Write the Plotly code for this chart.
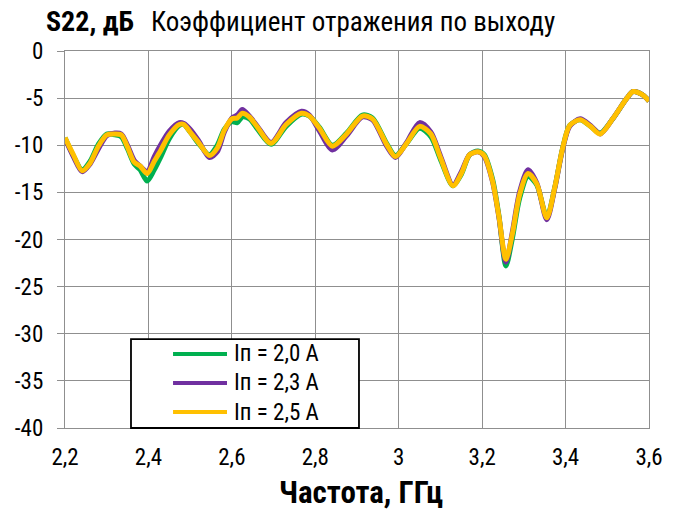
import plotly.graph_objects as go

# Frequency grid, GHz
freq = [
    2.200, 2.220, 2.241, 2.260, 2.280, 2.300, 2.320, 2.335, 2.350, 2.366,
    2.380, 2.397, 2.414, 2.430, 2.450, 2.474, 2.485, 2.500, 2.520, 2.546,
    2.565, 2.582, 2.600, 2.613, 2.625, 2.642, 2.660, 2.694, 2.730, 2.767,
    2.786, 2.810, 2.841, 2.875, 2.913, 2.937, 2.971, 2.992, 3.019, 3.050,
    3.077, 3.100, 3.130, 3.150, 3.170, 3.190, 3.205, 3.225, 3.240, 3.257,
    3.272, 3.290, 3.310, 3.331, 3.355, 3.374, 3.393, 3.410, 3.435, 3.460,
    3.483, 3.513, 3.547, 3.562, 3.583, 3.600,
]

# S22, dB at supply current 2.0 A
s22_20 = [
    -9.2, -11.1, -12.6, -11.7, -9.9, -8.8, -8.9, -9.1, -10.4, -12.0,
    -12.6, -13.8, -12.6, -11.2, -9.3, -7.9, -7.8, -8.6, -9.8, -11.0,
    -10.0, -8.3, -7.5, -7.6, -7.0, -7.2, -8.2, -9.9, -8.0, -6.7,
    -6.9, -8.1, -10.0, -8.7, -6.8, -7.1, -9.8, -11.1, -9.8, -8.2,
    -9.1, -11.5, -14.3, -13.1, -11.0, -10.6, -11.0, -13.6, -17.4, -22.8,
    -20.0, -15.6, -13.3, -14.2, -17.6, -14.5, -10.3, -7.9, -7.3, -8.0,
    -8.7, -7.2, -5.0, -4.3, -4.6, -5.3,
]

# S22, dB at supply current 2.3 A
s22_23 = [
    -9.3, -11.2, -12.8, -12.0, -10.4, -9.0, -8.7, -8.8, -10.0, -11.6,
    -12.2, -12.8, -11.2, -9.9, -8.5, -7.6, -7.7, -8.3, -9.5, -11.3,
    -10.7, -8.6, -7.1, -6.8, -6.2, -6.9, -7.9, -9.7, -7.6, -6.4,
    -6.8, -8.5, -10.5, -9.0, -7.0, -7.3, -10.1, -11.3, -9.7, -7.6,
    -8.6, -11.1, -14.2, -12.8, -11.0, -10.7, -11.2, -13.9, -17.6, -22.4,
    -19.3, -14.9, -12.6, -14.0, -17.9, -14.6, -10.4, -8.0, -7.2, -7.9,
    -8.8, -7.2, -5.0, -4.3, -4.6, -5.3,
]

# S22, dB at supply current 2.5 A
s22_25 = [
    -9.2, -11.0, -12.7, -11.9, -10.1, -8.9, -8.8, -8.9, -10.2, -11.8,
    -12.2, -13.0, -11.7, -10.5, -8.9, -7.8, -7.8, -8.6, -9.7, -11.1,
    -10.3, -8.4, -7.2, -7.1, -6.6, -7.0, -8.0, -9.8, -7.8, -6.6,
    -6.9, -8.2, -10.1, -8.8, -6.9, -7.2, -9.9, -11.2, -9.8, -8.0,
    -8.8, -11.3, -14.3, -13.0, -11.0, -10.7, -11.1, -13.8, -17.5, -22.1,
    -19.5, -15.2, -13.0, -14.1, -17.7, -14.5, -10.3, -7.9, -7.3, -8.0,
    -8.8, -7.2, -5.0, -4.3, -4.6, -5.3,
]

series_names = ["Iп = 2,0 A", "Iп = 2,3 A", "Iп = 2,5 A"]
series_colors = ["#00B050", "#7030A0", "#FFC000"]

x_tick_vals = [2.2, 2.4, 2.6, 2.8, 3.0, 3.2, 3.4, 3.6]
x_tick_text = ["2,2", "2,4", "2,6", "2,8", "3", "3,2", "3,4", "3,6"]
y_tick_vals = [0, -5, -10, -15, -20, -25, -30, -35, -40]
y_tick_text = ["0", "-5", "-10", "-15", "-20", "-25", "-30", "-35", "-40"]

FONT = "Roboto Condensed, Liberation Sans, Arial, sans-serif"
GRID = "#8f8f8f"

fig = go.Figure()
for vals, name, color in zip([s22_20, s22_23, s22_25], series_names, series_colors):
    fig.add_trace(go.Scatter(
        x=freq, y=vals, name=name, mode="lines", showlegend=False,
        line=dict(color=color, width=5, shape="spline", smoothing=0.8),
    ))

fig.update_layout(
    width=677, height=513,
    margin=dict(l=65, r=28, t=51, b=85, pad=0),
    paper_bgcolor="white", plot_bgcolor="white",
    font=dict(family=FONT, size=23, color="black"),
    xaxis=dict(
        range=[2.2, 3.6], tickvals=x_tick_vals, ticktext=x_tick_text,
        showgrid=True, gridcolor=GRID, gridwidth=1.3,
        showline=True, linecolor=GRID, linewidth=1.3, mirror=True,
        ticks="", ticklabelstandoff=8, zeroline=False,
        tickfont=dict(family=FONT, size=23, color="black"),
    ),
    yaxis=dict(
        range=[-40, 0], tickvals=y_tick_vals, ticktext=y_tick_text,
        showgrid=True, gridcolor=GRID, gridwidth=1.3,
        showline=True, linecolor=GRID, linewidth=1.3, mirror=True,
        ticks="outside", ticklen=7, tickcolor=GRID, tickwidth=1.3,
        ticklabelstandoff=9, zeroline=False,
        tickfont=dict(family=FONT, size=23, color="black"),
    ),
)

# Legend box with one key line and label per current
fig.add_shape(type="rect", xref="paper", yref="paper",
              x0=0.113, x1=0.5034, y0=0.0, y1=0.236,
              line=dict(color="black", width=1.8), fillcolor="white", layer="above")
legend_rows = [0.1963, 0.1194, 0.0424]
for row_y, name, color in zip(legend_rows, series_names, series_colors):
    fig.add_shape(type="line", xref="paper", yref="paper",
                  x0=0.185, x1=0.2774, y0=row_y, y1=row_y,
                  line=dict(color=color, width=4), layer="above")
    fig.add_annotation(text=name, xref="paper", yref="paper",
                       x=0.286, y=row_y, xanchor="left", yanchor="middle",
                       showarrow=False, font=dict(family=FONT, size=23, color="black"))

fig.add_annotation(
    text="<b>S22, дБ</b>", xref="paper", yref="paper",
    x=-0.036, y=1.078, xanchor="left", yanchor="middle", showarrow=False,
    font=dict(family=FONT, size=28, color="black"),
)
fig.add_annotation(
    text="Коэффициент отражения по выходу", xref="paper", yref="paper",
    x=0.143, y=1.078, xanchor="left", yanchor="middle", showarrow=False,
    font=dict(family=FONT, size=27, color="black"),
)
fig.add_annotation(
    text="<b>Частота, ГГц</b>", xref="paper", yref="paper",
    x=0.506, y=-0.17, xanchor="center", yanchor="middle", showarrow=False,
    font=dict(family=FONT, size=31, color="black"),
)

fig.write_html("out.html")
